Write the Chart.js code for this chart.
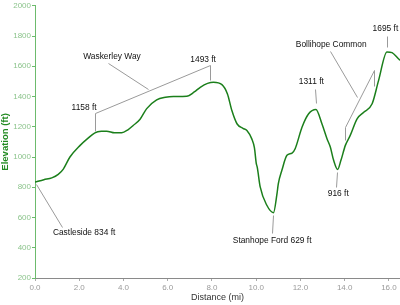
<!DOCTYPE html>
<html>
<head>
<meta charset="utf-8">
<script src="https://cdn.jsdelivr.net/npm/chart.js@4"></script>
<style>
  body { margin: 0; background: #fff; }
  canvas { display: block; }
</style>
</head>
<body>
<canvas id="chart" width="400" height="305"></canvas>
<script>
// Profile: distance (mi) and elevation (ft)
const distanceMi = [0.0, 0.4, 0.76, 1.05, 1.28, 1.58, 2.04, 2.4, 2.71, 3.0, 3.24, 3.6, 3.92, 4.2, 4.45, 4.75,
  5.05, 5.5, 5.9, 6.26, 6.86, 7.2, 7.47, 7.8, 8.07, 8.45, 8.7, 8.9, 9.13, 9.4, 9.58, 9.8, 9.92, 10.0,
  10.05, 10.18, 10.48, 10.78, 10.94, 11.0, 11.16, 11.39, 11.62, 11.76, 12.07, 12.37, 12.7, 12.97,
  13.2, 13.35, 13.5, 13.68, 13.83, 14.03, 14.25, 14.56, 14.86, 15.24, 15.53, 15.91, 16.14, 16.44, 16.5];
const elevationFt = [834, 850, 862, 885, 920, 1000, 1077, 1125, 1160, 1170, 1171, 1160, 1160, 1180, 1210, 1250,
  1320, 1378, 1395, 1400, 1402, 1430, 1461, 1487, 1495, 1479, 1417, 1307, 1220, 1190, 1176, 1120, 1060, 960,
  930, 802, 681, 632, 758, 824, 912, 1011, 1026, 1055, 1197, 1286, 1314, 1220,
  1121, 1066, 978, 918, 978, 1077, 1143, 1253, 1296, 1352, 1505, 1695, 1690, 1648, 1640];

const yTicks = [200, 400, 600, 800, 1000, 1200, 1400, 1600, 1800, 2000];
const xTicks = [0, 2, 4, 6, 8, 10, 12, 14, 16];

// callout labels, anchored in data units (mi, ft)
const calloutText = ['Castleside 834 ft', 'Stanhope Ford 629 ft', '916 ft', '1311 ft', '1695 ft',
  '1158 ft', '1493 ft', 'Waskerley Way', 'Bollihope Common'];
const calloutMi = [2.22, 10.72, 13.71, 12.49, 15.84, 2.22, 7.60, 3.48, 13.39];
const calloutFt = [497, 450, 760, 1499, 1848, 1327, 1644, 1663, 1743];

// leader lines, each a list of [mi, ft] points
const leaderLines = [
  [[0.05, 824], [1.21, 534]],
  [[10.74, 615], [10.72, 495]],
  [[13.65, 901], [13.62, 802]],
  [[12.64, 1453], [12.71, 1354]],
  [[15.91, 1802], [15.91, 1725]],
  [[2.71, 1169], [2.71, 1294], [7.92, 1611], [7.92, 1512]],
  [[3.30, 1624], [5.11, 1452]],
  [[14.03, 1110], [14.03, 1197], [15.34, 1576], [15.34, 1472]],
  [[13.35, 1703], [14.57, 1395]]
];

const points = distanceMi.map((d, i) => ({ x: d, y: elevationFt[i] }));

const callouts = {
  id: 'callouts',
  afterDatasetsDraw(chart) {
    const { ctx, scales: { x, y } } = chart;
    ctx.save();
    ctx.strokeStyle = '#9a9a9a';
    ctx.lineWidth = 1;
    leaderLines.forEach(line => {
      ctx.beginPath();
      line.forEach(([mi, ft], i) => {
        const px = Math.round(x.getPixelForValue(mi)) + 0.5;
        const py = Math.round(y.getPixelForValue(ft)) + 0.5;
        if (i === 0) ctx.moveTo(px, py); else ctx.lineTo(px, py);
      });
      ctx.stroke();
    });
    ctx.fillStyle = '#111';
    ctx.font = '8.4px "Liberation Sans", Arial, sans-serif';
    ctx.textAlign = 'center';
    ctx.textBaseline = 'middle';
    calloutText.forEach((t, i) => {
      ctx.fillText(t, x.getPixelForValue(calloutMi[i]), y.getPixelForValue(calloutFt[i]));
    });
    ctx.restore();
  }
};

new Chart(document.getElementById('chart'), {
  type: 'line',
  data: {
    datasets: [{
      data: points,
      borderColor: '#1b7f1b',
      borderWidth: 1.5,
      pointRadius: 0,
      cubicInterpolationMode: 'monotone',
      fill: false
    }]
  },
  options: {
    responsive: false,
    animation: false,
    devicePixelRatio: 1,
    layout: { padding: { top: 5, right: 0, bottom: 0, left: 0 } },
    plugins: { legend: { display: false }, tooltip: { enabled: false } },
    scales: {
      x: {
        type: 'linear',
        min: 0,
        max: 16.5,
        afterFit: s => { s.height = 27; },
        afterBuildTicks: s => { s.ticks = xTicks.map(v => ({ value: v })); },
        grid: { display: true, drawOnChartArea: false, drawTicks: true, tickLength: 3, color: '#aaa' },
        border: { display: true, color: '#8a8a8a' },
        ticks: {
          color: '#9a9a9a',
          padding: 2,
          maxRotation: 0,
          font: { size: 8, family: 'Liberation Sans' },
          callback: v => v.toFixed(1)
        },
        title: {
          display: true,
          text: 'Distance (mi)',
          color: '#333',
          font: { size: 9, family: 'Liberation Sans' },
          padding: { top: 0, bottom: 2 }
        }
      },
      y: {
        min: 200,
        max: 2000,
        afterFit: s => { s.width = 35; },
        afterBuildTicks: s => { s.ticks = yTicks.map(v => ({ value: v })); },
        grid: { display: true, drawOnChartArea: false, drawTicks: true, tickLength: 3, color: '#6dbb6d' },
        border: { display: true, color: '#6dbb6d' },
        ticks: {
          color: '#8cc48c',
          padding: 1,
          font: { size: 8, family: 'Liberation Sans' },
          callback: v => String(v)
        },
        title: {
          display: true,
          text: 'Elevation (ft)',
          color: '#228b22',
          font: { size: 9.5, weight: 'bold', family: 'Liberation Sans' },
          padding: { top: 0, bottom: 1 }
        }
      }
    }
  },
  plugins: [callouts]
});
</script>
</body>
</html>
